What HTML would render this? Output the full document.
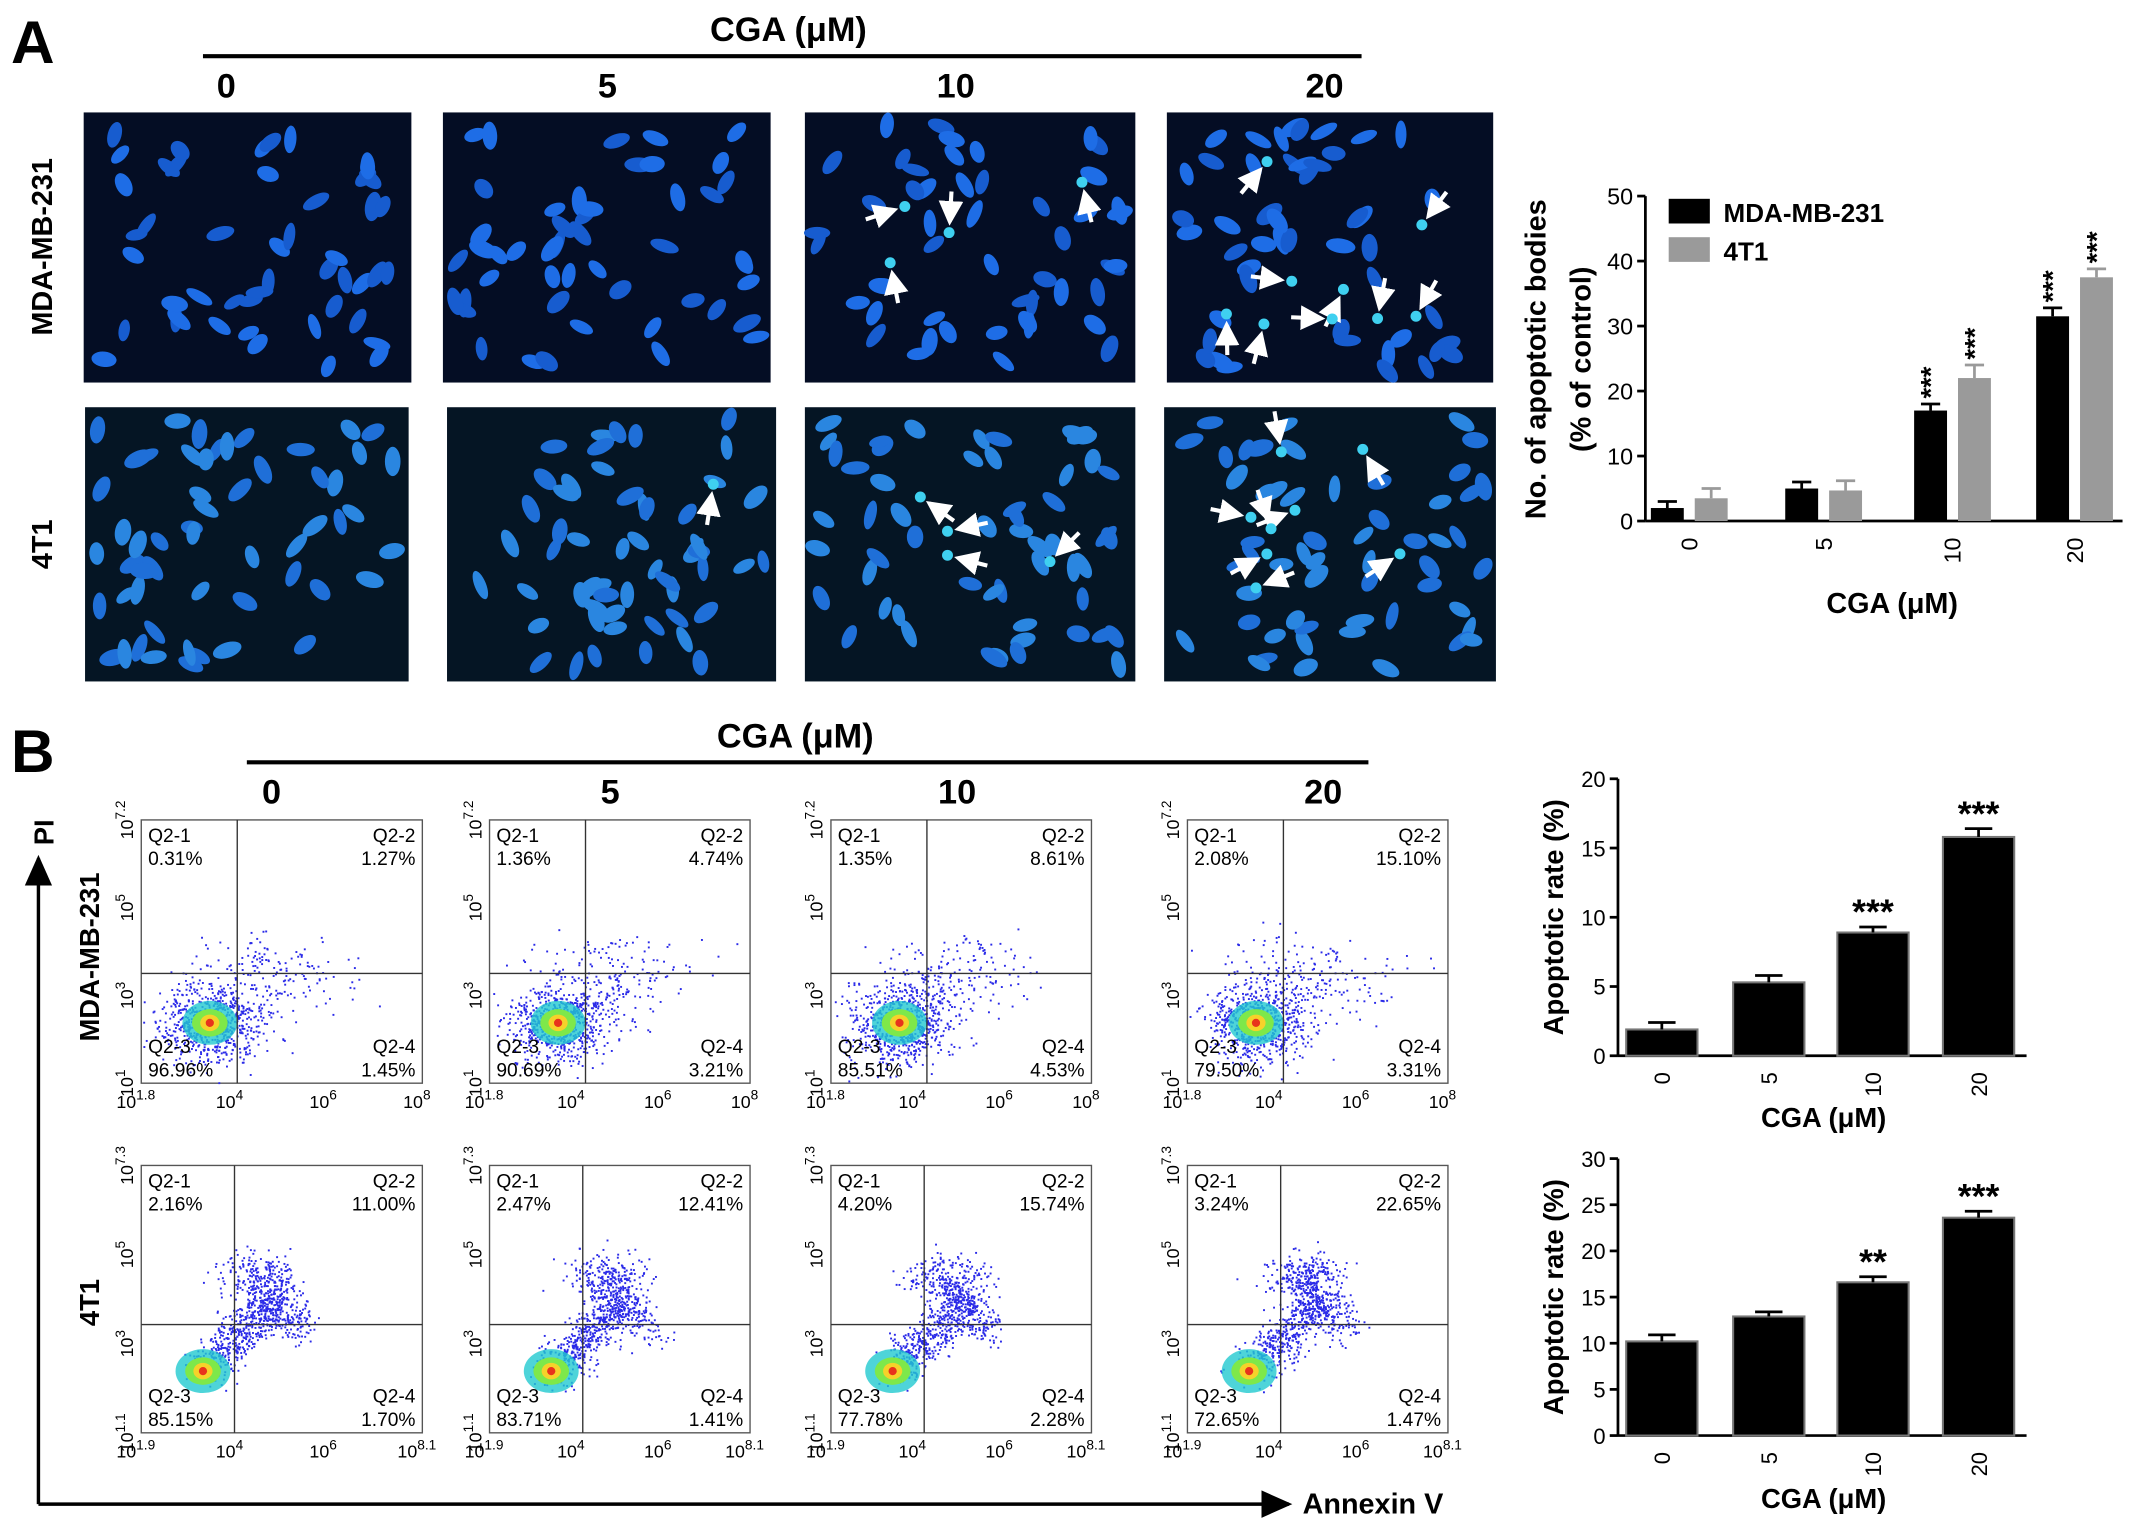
<!DOCTYPE html>
<html><head><meta charset="utf-8">
<style>
html,body{margin:0;padding:0;background:#fff;}
svg{display:block;font-family:"Liberation Sans",Arial,sans-serif;}
</style></head>
<body>
<svg id="fig" width="2150" height="1524" viewBox="0 0 1568 1111.5" xmlns="http://www.w3.org/2000/svg">
<defs>
<marker id="arr" markerWidth="10" markerHeight="10" refX="8" refY="5" orient="auto"><path d="M0,1 L9,5 L0,9 Z" fill="#000"/></marker>
<marker id="warr" markerWidth="6" markerHeight="6" refX="5" refY="3" orient="auto"><path d="M0,0 L6,3 L0,6 Z" fill="#fff"/></marker>
</defs>
<g id="panelA">
<text x="8" y="46" font-size="44" font-weight="bold">A</text>
<text x="575" y="30" font-size="25" font-weight="bold" text-anchor="middle">CGA (μM)</text>
<line x1="148" y1="41" x2="993" y2="41" stroke="#000" stroke-width="3"/>
<text x="165" y="71" font-size="25" font-weight="bold" text-anchor="middle">0</text>
<text x="443" y="71" font-size="25" font-weight="bold" text-anchor="middle">5</text>
<text x="697" y="71" font-size="25" font-weight="bold" text-anchor="middle">10</text>
<text x="966" y="71" font-size="25" font-weight="bold" text-anchor="middle">20</text>
<text transform="translate(38,180) rotate(-90)" font-size="21" font-weight="bold" text-anchor="middle">MDA-MB-231</text>
<text transform="translate(38,397) rotate(-90)" font-size="21" font-weight="bold" text-anchor="middle">4T1</text>
<g id="micro"></g>
</g>
<g id="chartA"></g>
<g id="panelB">
<text x="8" y="563" font-size="44" font-weight="bold">B</text>
<text x="580" y="545" font-size="25" font-weight="bold" text-anchor="middle">CGA (μM)</text>
<line x1="180" y1="556" x2="998" y2="556" stroke="#000" stroke-width="3"/>
<text x="198" y="586" font-size="25" font-weight="bold" text-anchor="middle">0</text>
<text x="445" y="586" font-size="25" font-weight="bold" text-anchor="middle">5</text>
<text x="698" y="586" font-size="25" font-weight="bold" text-anchor="middle">10</text>
<text x="965" y="586" font-size="25" font-weight="bold" text-anchor="middle">20</text>
<text transform="translate(72,698) rotate(-90)" font-size="20" font-weight="bold" text-anchor="middle">MDA-MB-231</text>
<text transform="translate(72,950) rotate(-90)" font-size="20" font-weight="bold" text-anchor="middle">4T1</text>
<line x1="28" y1="1097" x2="28" y2="626" stroke="#000" stroke-width="2.5" marker-end="url(#arr)"/>
<text transform="translate(39,607) rotate(-90)" font-size="20" font-weight="bold" text-anchor="middle">PI</text>
<line x1="28" y1="1097" x2="940" y2="1097" stroke="#000" stroke-width="2.5" marker-end="url(#arr)"/>
<text x="950" y="1104" font-size="21" font-weight="bold">Annexin V</text>
<g id="flow"></g>
</g>
<g id="chartB1"></g>
<g id="chartB2"></g>
</svg>
<script>
// ---- chart data ----
const catsA = ["0","5","10","20"];
const mdaBodies = [2, 5, 17, 31.5];
const mdaBodiesErr = [1, 1, 1, 1.3];
const t1Bodies = [3.5, 4.7, 22, 37.5];
const t1BodiesErr = [1.5, 1.5, 2, 1.3];
const starsA_mda = ["", "", "***", "***"];
const starsA_t1 = ["", "", "***", "***"];
const ticksA = [0,10,20,30,40,50];

const catsB = ["0","5","10","20"];
const mdaRate = [1.9, 5.3, 8.9, 15.8];
const mdaRateErr = [0.5, 0.5, 0.4, 0.6];
const mdaStars = ["", "", "***", "***"];
const ticksB1 = [0,5,10,15,20];
const t1Rate = [10.2, 12.9, 16.6, 23.6];
const t1RateErr = [0.7, 0.5, 0.6, 0.7];
const t1Stars = ["", "", "**", "***"];
const ticksB2 = [0,5,10,15,20,25,30];

const flowMda = [["0.31%","1.27%","96.96%","1.45%"],["1.36%","4.74%","90.69%","3.21%"],["1.35%","8.61%","85.51%","4.53%"],["2.08%","15.10%","79.50%","3.31%"]];
const flow4t1 = [["2.16%","11.00%","85.15%","1.70%"],["2.47%","12.41%","83.71%","1.41%"],["4.20%","15.74%","77.78%","2.28%"],["3.24%","22.65%","72.65%","1.47%"]];

const NS="http://www.w3.org/2000/svg";
function mk(parent, tag, attrs, txt){const e=document.createElementNS(NS,tag);for(const k in attrs)e.setAttribute(k,attrs[k]);if(txt!==undefined)e.textContent=txt;parent.appendChild(e);return e;}
let seed=12345;function rnd(){seed=(seed*16807)%2147483647;return (seed-1)/2147483646;}
function gauss(){return Math.sqrt(-2*Math.log(rnd()+1e-9))*Math.cos(2*Math.PI*rnd());}

// ---- micrographs (decorative) ----
const micro=document.getElementById('micro');
const imgs=[[61,82,239,197,0],[323,82,239,197,0],[587,82,241,197,0],[851,82,238,197,0],[62,297,236,200,1],[326,297,240,200,1],[587,297,241,200,1],[849,297,242,200,1]];
imgs.forEach((im,i)=>{
  const g=mk(micro,'g',{});
  
  
  mk(g,'rect',{x:im[0],y:im[1],width:im[2],height:im[3],fill:im[4]?'#051524':'#040d24'});
  const n=im[4]?55:48;
  for(let k=0;k<n;k++){
    const cx=im[0]+8+rnd()*(im[2]-16), cy=im[1]+8+rnd()*(im[3]-16);
    const col=im[4]?(rnd()<0.5?'#2a86e0':'#1f6fd8'):(rnd()<0.5?'#1e6de6':'#175ccf');
    mk(g,'ellipse',{cx:cx,cy:cy,rx:4+rnd()*2,ry:8+rnd()*3,fill:col,transform:`rotate(${rnd()*180} ${cx} ${cy})`});
  }
  const na=[0,0,4,9,0,1,4,8][i];
  for(let k=0;k<na;k++){
    const cx=im[0]+30+rnd()*(im[2]-60), cy=im[1]+25+rnd()*(im[3]-50);
    mk(g,'circle',{cx:cx,cy:cy,r:4,fill:'#3fd0f0'});
    const a=rnd()*6.28;
    mk(g,'line',{x1:cx+30*Math.cos(a),y1:cy+30*Math.sin(a),x2:cx+8*Math.cos(a),y2:cy+8*Math.sin(a),stroke:'#fff','stroke-width':3,'marker-end':'url(#warr)'});
  }
});

// ---- flow plots (decorative scatter + quadrant values) ----
const flow=document.getElementById('flow');
const fx=[103,357,606,866], fw=[205,190,190,190];
function flowPlot(x,y,w,h,vals,row,idx){
  const g=mk(flow,'g',{});
  
  
  mk(g,'rect',{x:x,y:y,width:w,height:h,fill:'#fff',stroke:'#555','stroke-width':1});
  const qx=x+(row==='mda'?70:68), qy=y+(row==='mda'?112:116);
  const cx=row==='mda'?x+50:x+45, cy=row==='mda'?y+148:y+150;
  for(let k=0;k<900;k++){
    let px,py;
    if(row==='mda'){ if(rnd()<0.8){px=cx+gauss()*18;py=cy+gauss()*14;} else {px=x+100+gauss()*30-20*rnd();py=y+95+gauss()*10+rnd()*40;} }
    else { if(rnd()<0.55){const t=rnd();px=cx+t*55+gauss()*8;py=cy-t*55+gauss()*8;} else if(rnd()<0.5){px=x+85+gauss()*15;py=y+80+gauss()*8;} else {const t=rnd();px=x+80+t*40+gauss()*6;py=y+90+t*30+gauss()*8;} }
    if(px>x&&px<x+w&&py>y&&py<y+h) mk(g,'rect',{x:px,y:py,width:1.4,height:1.4,fill:'#2a2ae8'});
  }
  mk(g,'ellipse',{cx:cx,cy:cy,rx:20,ry:16,fill:'#22c9d0',opacity:0.8});
  mk(g,'ellipse',{cx:cx,cy:cy,rx:13,ry:10,fill:'#7ee84a'});
  mk(g,'ellipse',{cx:cx,cy:cy,rx:7,ry:6,fill:'#f6d22a'});
  mk(g,'ellipse',{cx:cx,cy:cy,rx:3,ry:3,fill:'#e8331c'});
  mk(g,'line',{x1:qx,y1:y,x2:qx,y2:y+h,stroke:'#333','stroke-width':1});
  mk(g,'line',{x1:x,y1:qy,x2:x+w,y2:qy,stroke:'#333','stroke-width':1});
  const fs=14;
  mk(g,'text',{x:x+5,y:y+16,'font-size':fs},'Q2-1');
  mk(g,'text',{x:x+5,y:y+33,'font-size':fs},vals[0]);
  mk(g,'text',{x:x+w-5,y:y+16,'font-size':fs,'text-anchor':'end'},'Q2-2');
  mk(g,'text',{x:x+w-5,y:y+33,'font-size':fs,'text-anchor':'end'},vals[1]);
  mk(g,'text',{x:x+5,y:y+h-22,'font-size':fs},'Q2-3');
  mk(g,'text',{x:x+5,y:y+h-5,'font-size':fs},vals[2]);
  mk(g,'text',{x:x+w-5,y:y+h-22,'font-size':fs,'text-anchor':'end'},'Q2-4');
  mk(g,'text',{x:x+w-5,y:y+h-5,'font-size':fs,'text-anchor':'end'},vals[3]);
  const xt=row==='mda'?['1.8','4','6','8']:['1.9','4','6','8.1'];
  const yt=row==='mda'?['1','3','5','7.2']:['1.1','3','5','7.3'];
  xt.forEach((t,i)=>{const tx=x+i*w/3;const te=mk(g,'text',{x:tx-4,y:y+h+18,'font-size':13,'text-anchor':'middle'},'10');mk(te,'tspan',{dy:-6,'font-size':10},t);});
  yt.forEach((t,i)=>{const ty=y+h-i*h/3;const te=mk(g,'text',{transform:`translate(${x-6},${ty}) rotate(-90)`,'font-size':13,'text-anchor':'middle'},'10');mk(te,'tspan',{dy:-6,'font-size':10},t);});
}
fx.forEach((x,i)=>flowPlot(x,598,fw[i],192,flowMda[i],'mda',i));
fx.forEach((x,i)=>flowPlot(x,850,fw[i],195,flow4t1[i],'4t1',i));

// ---- bar chart A ----
(function(){
  const g=document.getElementById('chartA');
  const x0=1200,y0=380,y1=143,vmax=50;
  const ys=v=>y0-(v/vmax)*(y0-y1);
  const groupC=[1232,1330,1424,1513], bw=24;
  mk(g,'line',{x1:x0,y1:y1,x2:x0,y2:y0,stroke:'#000','stroke-width':2});
  mk(g,'line',{x1:x0,y1:y0,x2:1548,y2:y0,stroke:'#000','stroke-width':2});
  ticksA.forEach(t=>{mk(g,'line',{x1:x0-6,y1:ys(t),x2:x0,y2:ys(t),stroke:'#000','stroke-width':2});mk(g,'text',{x:x0-9,y:ys(t)+6,'font-size':17,'text-anchor':'end'},t);});
  catsA.forEach((c,i)=>{
    const cx=groupC[i];
    [[mdaBodies,mdaBodiesErr,'#000',-1,starsA_mda],[t1Bodies,t1BodiesErr,'#9a9a9a',1,starsA_t1]].forEach(s=>{
      const bx=cx+s[3]*(bw/2+4)-bw/2, v=s[0][i], e=s[1][i];
      const r=mk(g,'rect',{x:bx,y:ys(v),width:bw,height:y0-ys(v),fill:s[2]});
      
      
      mk(g,'line',{x1:bx+bw/2,y1:ys(v),x2:bx+bw/2,y2:ys(v+e),stroke:s[2],'stroke-width':2});
      mk(g,'line',{x1:bx+5,y1:ys(v+e),x2:bx+bw-5,y2:ys(v+e),stroke:s[2],'stroke-width':2});
      if(s[4][i]) mk(g,'text',{transform:`translate(${bx+bw/2+7},${ys(v+e)-4}) rotate(-90)`,'font-size':20,'font-weight':'bold'},s[4][i]);
    });
    mk(g,'text',{transform:`translate(${cx+6},${y0+12}) rotate(-90)`,'font-size':17,'text-anchor':'end'},c);
  });
  mk(g,'text',{x:1380,y:447,'font-size':21,'font-weight':'bold','text-anchor':'middle'},'CGA (μM)');
  mk(g,'text',{transform:'translate(1127,262) rotate(-90)','font-size':21,'font-weight':'bold','text-anchor':'middle'},'No. of apoptotic bodies');
  mk(g,'text',{transform:'translate(1160,262) rotate(-90)','font-size':21,'font-weight':'bold','text-anchor':'middle'},'(% of control)');
  mk(g,'rect',{x:1217,y:145,width:30,height:18,fill:'#000'});
  mk(g,'text',{x:1257,y:162,'font-size':19,'font-weight':'bold'},'MDA-MB-231');
  mk(g,'rect',{x:1217,y:173,width:30,height:18,fill:'#9a9a9a'});
  mk(g,'text',{x:1257,y:190,'font-size':19,'font-weight':'bold'},'4T1');
})();

// ---- bar charts B ----
function barB(gid,vals,errs,stars,ticks,vmax,y0,y1,lbly,cats,nm){
  const g=document.getElementById(gid);
  const x0=1180;
  const ys=v=>y0-(v/vmax)*(y0-y1);
  const cs=[1212,1290,1366,1443], bw=52;
  mk(g,'line',{x1:x0,y1:y1,x2:x0,y2:y0,stroke:'#000','stroke-width':2});
  mk(g,'line',{x1:x0,y1:y0,x2:1478,y2:y0,stroke:'#000','stroke-width':2});
  ticks.forEach(t=>{mk(g,'line',{x1:x0-6,y1:ys(t),x2:x0,y2:ys(t),stroke:'#000','stroke-width':2});mk(g,'text',{x:x0-9,y:ys(t)+6,'font-size':16,'text-anchor':'end'},t);});
  cats.forEach((c,i)=>{
    const v=vals[i],e=errs[i],bx=cs[i]-bw/2;
    const r=mk(g,'rect',{x:bx,y:ys(v),width:bw,height:y0-ys(v),fill:'#000',stroke:'#777','stroke-width':1.5});
    
    
    mk(g,'line',{x1:cs[i],y1:ys(v),x2:cs[i],y2:ys(v+e),stroke:'#000','stroke-width':2});
    mk(g,'line',{x1:cs[i]-10,y1:ys(v+e),x2:cs[i]+10,y2:ys(v+e),stroke:'#000','stroke-width':2});
    if(stars[i]) mk(g,'text',{x:cs[i],y:ys(v+e)-2,'font-size':26,'font-weight':'bold','text-anchor':'middle'},stars[i]);
    mk(g,'text',{transform:`translate(${cs[i]+6},${y0+12}) rotate(-90)`,'font-size':16,'text-anchor':'end'},c);
  });
  mk(g,'text',{x:1330,y:lbly,'font-size':20,'font-weight':'bold','text-anchor':'middle'},'CGA (μM)');
  mk(g,'text',{transform:`translate(1140,${(y0+y1)/2}) rotate(-90)`,'font-size':20,'font-weight':'bold','text-anchor':'middle'},'Apoptotic rate (%)');
}
barB('chartB1',mdaRate,mdaRateErr,mdaStars,ticksB1,20,770,568,822,catsB,'b-mda');
barB('chartB2',t1Rate,t1RateErr,t1Stars,ticksB2,30,1047,845,1100,catsB,'b-4t1');
</script>
</body></html>
